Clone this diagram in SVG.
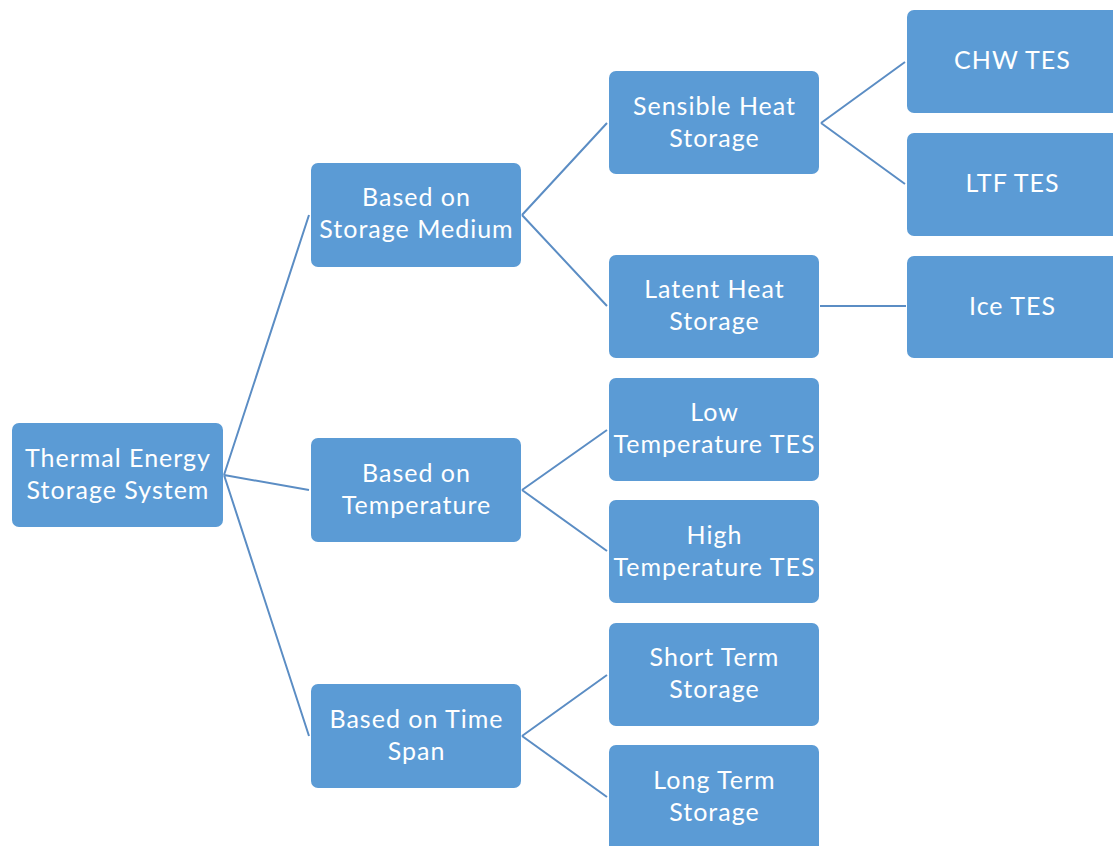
<svg xmlns="http://www.w3.org/2000/svg" width="1113" height="846" viewBox="0 0 1113 846">
  <style>
    .box { fill: #5B9BD5; }
    .lbl { fill: #ffffff; font-family: Lato, "Open Sans", sans-serif; font-size: 25px; letter-spacing: 1px; text-anchor: middle; }
    .edge { stroke: #5B8DC4; stroke-width: 2; fill: none; }
  </style>
  <rect width="1113" height="846" fill="#ffffff"/>

  <g id="connectors">
    <path class="edge" d="M224,475 L309,215 M224,475 L309,490 M224,475 L309,736"/>
    <path class="edge" d="M522,215 L607,123 M522,215 L607,306"/>
    <path class="edge" d="M522,490 L607,430 M522,490 L607,551"/>
    <path class="edge" d="M522,736 L607,675 M522,736 L607,797"/>
    <path class="edge" d="M821,123 L905,62 M821,123 L905,184"/>
    <path class="edge" d="M820,306 L906,306"/>
  </g>

  <g id="root">
    <rect class="box" x="12" y="423" width="211" height="104" rx="7"/>
    <text class="lbl" x="118" y="467">Thermal Energy</text>
    <text class="lbl" x="118" y="499">Storage System</text>
  </g>

  <g id="by-medium">
    <rect class="box" x="311" y="163" width="210" height="104" rx="7"/>
    <text class="lbl" x="416.5" y="206">Based on</text>
    <text class="lbl" x="416.5" y="238">Storage Medium</text>
  </g>
  <g id="by-temperature">
    <rect class="box" x="311" y="438" width="210" height="104" rx="7"/>
    <text class="lbl" x="416.5" y="482">Based on</text>
    <text class="lbl" x="416.5" y="514">Temperature</text>
  </g>
  <g id="by-time">
    <rect class="box" x="311" y="684" width="210" height="104" rx="7"/>
    <text class="lbl" x="416.5" y="728">Based on Time</text>
    <text class="lbl" x="416.5" y="760">Span</text>
  </g>

  <g id="sensible">
    <rect class="box" x="609" y="71" width="210" height="103" rx="7"/>
    <text class="lbl" x="714.5" y="115">Sensible Heat</text>
    <text class="lbl" x="714.5" y="147">Storage</text>
  </g>
  <g id="latent">
    <rect class="box" x="609" y="255" width="210" height="103" rx="7"/>
    <text class="lbl" x="714.5" y="298">Latent Heat</text>
    <text class="lbl" x="714.5" y="330">Storage</text>
  </g>
  <g id="low-temp">
    <rect class="box" x="609" y="378" width="210" height="103" rx="7"/>
    <text class="lbl" x="714.5" y="421">Low</text>
    <text class="lbl" x="714.5" y="453">Temperature TES</text>
  </g>
  <g id="high-temp">
    <rect class="box" x="609" y="500" width="210" height="103" rx="7"/>
    <text class="lbl" x="714.5" y="544">High</text>
    <text class="lbl" x="714.5" y="576">Temperature TES</text>
  </g>
  <g id="short-term">
    <rect class="box" x="609" y="623" width="210" height="103" rx="7"/>
    <text class="lbl" x="714.5" y="666">Short Term</text>
    <text class="lbl" x="714.5" y="698">Storage</text>
  </g>
  <g id="long-term">
    <rect class="box" x="609" y="745" width="210" height="110" rx="7"/>
    <text class="lbl" x="714.5" y="789">Long Term</text>
    <text class="lbl" x="714.5" y="821">Storage</text>
  </g>

  <g id="chw-tes">
    <rect class="box" x="907" y="10" width="215" height="103" rx="7"/>
    <text class="lbl" x="1012.5" y="69">CHW TES</text>
  </g>
  <g id="ltf-tes">
    <rect class="box" x="907" y="133" width="215" height="103" rx="7"/>
    <text class="lbl" x="1012.5" y="192">LTF TES</text>
  </g>
  <g id="ice-tes">
    <rect class="box" x="907" y="256" width="215" height="102" rx="7"/>
    <text class="lbl" x="1012.5" y="315">Ice TES</text>
  </g>
</svg>
